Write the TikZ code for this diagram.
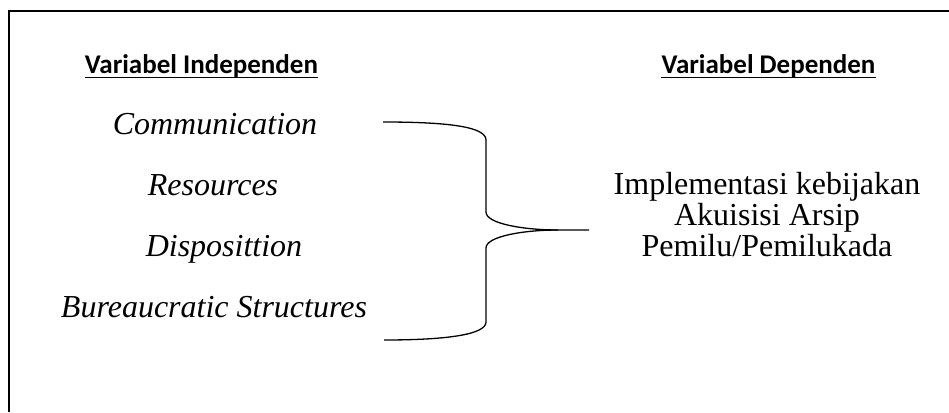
\documentclass[tikz,border=0pt]{standalone}
\usepackage{fontspec}
\setmainfont{Liberation Serif}
\newfontfamily\headfont{Carlito}
\usetikzlibrary{calc}
\begin{document}
\begin{tikzpicture}[x=1pt,y=-1pt,
  head/.style={font=\headfont\bfseries\fontsize{27}{30}\selectfont, inner sep=0pt, anchor=base},
  headrule/.style={line width=1.6pt},
  item/.style={font=\itshape\fontsize{32}{34}\selectfont, inner sep=0pt, anchor=base},
  result/.style={font=\fontsize{32}{31}\selectfont, align=center, inner sep=0pt},
  frame/.style={line width=1.6pt},
  brace/.style={line width=1.3pt}]
\useasboundingbox (0,0) rectangle (949,412);
% outer frame
\draw[frame] (9,412) -- (9,11) -- (949,11);

% column headings
\node[head] (hind) at (201.5,73) {Variabel Independen};
\node[head] (hdep) at (768.5,73) {Variabel Dependen};
\draw[headrule] ($(hind.base west)+(0,4.5)$) -- ($(hind.base east)+(0,4.5)$);
\draw[headrule] ($(hdep.base west)+(0,4.5)$) -- ($(hdep.base east)+(0,4.5)$);

% independent variables
\node[item] (comm) at (215,134) {Communication};
\node[item] (res)  at (213,195) {Resources};
\node[item] (disp) at (224,256) {Disposittion};
\node[item] (bur)  at (214,317) {Bureaucratic Structures};

% dependent variable
\node[result] (out) at (767,215) {Implementasi kebijakan\\Akuisisi Arsip\\Pemilu/Pemilukada};

% curly brace joining the variables
\coordinate (btop) at (383,122);
\coordinate (bbot) at (384,340);
\coordinate (bmid) at (558,230);
\coordinate (btip) at (589,230);
\draw[brace] (btop) .. controls (450,122) and (486,127) .. (486,140)
  -- (486,212) .. controls (486,224) and (525,230) .. (bmid) -- (btip);
\draw[brace] (bmid) .. controls (525,230) and (486,236) .. (486,248)
  -- (486,322) .. controls (486,334) and (450,340) .. (bbot);
\end{tikzpicture}
\end{document}
